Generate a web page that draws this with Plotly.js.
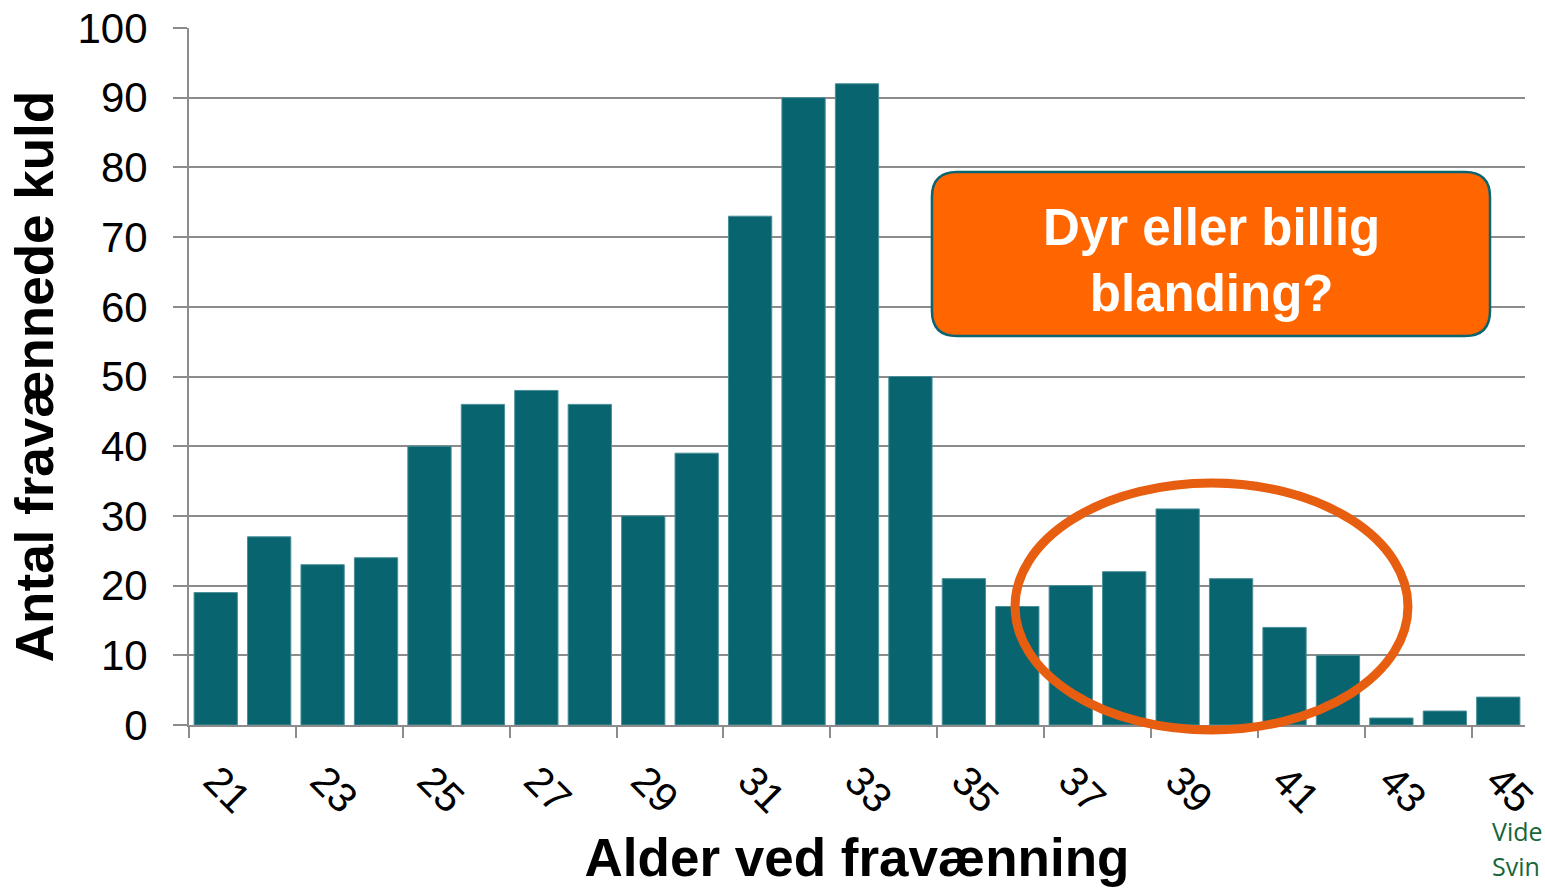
<!DOCTYPE html>
<html>
<head>
<meta charset="utf-8">
<script src="https://cdn.plot.ly/plotly-3.0.1.min.js"></script>
<style>
html,body{margin:0;padding:0;overflow:hidden;background:#fff;}
#chart{width:1545px;height:892px;}
</style>
</head>
<body>
<div id="chart"></div>
<script>
// Data
const ages = [21,22,23,24,25,26,27,28,29,30,31,32,33,34,35,36,37,38,39,40,41,42,43,44,45];
const kuld = [19,27,23,24,40,46,48,46,30,39,73,90,92,50,21,17,20,22,31,21,14,10,1,2,4];
const xTickVals = [21,23,25,27,29,31,33,35,37,39,41,43,45];
const xTickText = ['21','23','25','27','29','31','33','35','37','39','41','43','45'];
const xBoundaryTicks = [20.5,22.5,24.5,26.5,28.5,30.5,32.5,34.5,36.5,38.5,40.5,42.5,44.5];
const yTickVals = [0,10,20,30,40,50,60,70,80,90,100];

const font = 'Liberation Sans, Arial, Helvetica, sans-serif';
const grey = '#8c8c8c';

const trace = {
  type: 'bar',
  x: ages,
  y: kuld,
  marker: {color: '#08646f', line: {color: '#4a8f98', width: 1}},
  hoverinfo: 'x+y',
  xaxis: 'x',
  yaxis: 'y'
};
// invisible helper trace so the boundary tick axis is drawn
const helper = {
  type: 'scatter', x: [20.5], y: [0], xaxis: 'x2', yaxis: 'y',
  mode: 'markers', marker: {opacity: 0}, hoverinfo: 'skip', showlegend: false
};

// box geometry in paper units
const bx0 = 0.5561, bx1 = 0.9738, byT = 0.7934, byB = 0.5581, rx = 0.0187, ry = 0.0359;
const boxPath = `M ${bx0+rx},${byT} L ${bx1-rx},${byT} Q ${bx1},${byT} ${bx1},${byT-ry} ` +
  `L ${bx1},${byB+ry} Q ${bx1},${byB} ${bx1-rx},${byB} L ${bx0+rx},${byB} ` +
  `Q ${bx0},${byB} ${bx0},${byB+ry} L ${bx0},${byT-ry} Q ${bx0},${byT} ${bx0+rx},${byT} Z`;

const layout = {
  width: 1545, height: 892,
  margin: {l: 189, r: 20, t: 28, b: 167},
  paper_bgcolor: '#fff', plot_bgcolor: '#fff',
  showlegend: false,
  bargap: 0.19,
  font: {family: font, color: '#000'},
  xaxis: {
    range: [20.5, 45.5],
    tickmode: 'array', tickvals: xTickVals, ticktext: xTickText,
    tickangle: 45,
    ticks: '',
    tickfont: {size: 41, family: font, color: '#000'},
    showgrid: false, zeroline: false,
    showline: true, linecolor: grey, linewidth: 2,
    ticklabelstandoff: 13,
    title: {text: 'Alder ved fravænning', font: {size: 53, family: font, color: '#000', weight: 'bold'}, standoff: 18},
    automargin: false
  },
  xaxis2: {
    overlaying: 'x', anchor: 'y', side: 'bottom', matches: 'x',
    range: [20.5, 45.5],
    tickmode: 'array', tickvals: xBoundaryTicks,
    ticks: 'outside', ticklen: 12, tickwidth: 2, tickcolor: grey,
    showticklabels: false, showgrid: false, zeroline: false, showline: false
  },
  yaxis: {
    range: [0, 100],
    tickmode: 'array', tickvals: yTickVals,
    ticks: 'outside', ticklen: 14, tickwidth: 2, tickcolor: grey,
    tickfont: {size: 42, family: font, color: '#000'},
    ticklabelstandoff: 17,
    showgrid: true, gridcolor: grey, gridwidth: 2,
    zeroline: false,
    showline: true, linecolor: grey, linewidth: 2,
    title: {text: 'Antal fravænnede kuld', font: {size: 53, family: font, color: '#000', weight: 'bold'}, standoff: 7},
    automargin: false
  },
  shapes: [
    {type: 'path', xref: 'paper', yref: 'paper', path: boxPath,
     fillcolor: '#ff6600', line: {color: '#0b6470', width: 2.5}, layer: 'above'},
    {type: 'circle', xref: 'paper', yref: 'paper',
     x0: 0.6183, x1: 0.9124, y0: -0.0072, y1: 0.3472,
     line: {color: '#e85e10', width: 9}, fillcolor: 'rgba(0,0,0,0)', layer: 'above'}
  ],
  annotations: [
    {xref: 'paper', yref: 'paper', x: 0.7650, y: 0.667, xanchor: 'center', yanchor: 'middle',
     text: 'Dyr eller billig<br>blanding?', showarrow: false,
     font: {size: 51, family: font, color: '#fff', weight: 'bold'}},
    {xref: 'paper', yref: 'paper', x: 0.9745, y: -0.152, xanchor: 'left', yanchor: 'middle',
     text: 'Vide', showarrow: false, borderpad: 0,
     font: {size: 25, family: 'Open Sans, Liberation Sans, sans-serif', color: '#17663a'}},
    {xref: 'paper', yref: 'paper', x: 0.9745, y: -0.202, xanchor: 'left', yanchor: 'middle',
     text: 'Svin', showarrow: false, borderpad: 0,
     font: {size: 25, family: 'Open Sans, Liberation Sans, sans-serif', color: '#17663a'}}
  ]
};

Plotly.newPlot('chart', [trace, helper], layout, {displayModeBar: false, staticPlot: true});
</script>
</body>
</html>
